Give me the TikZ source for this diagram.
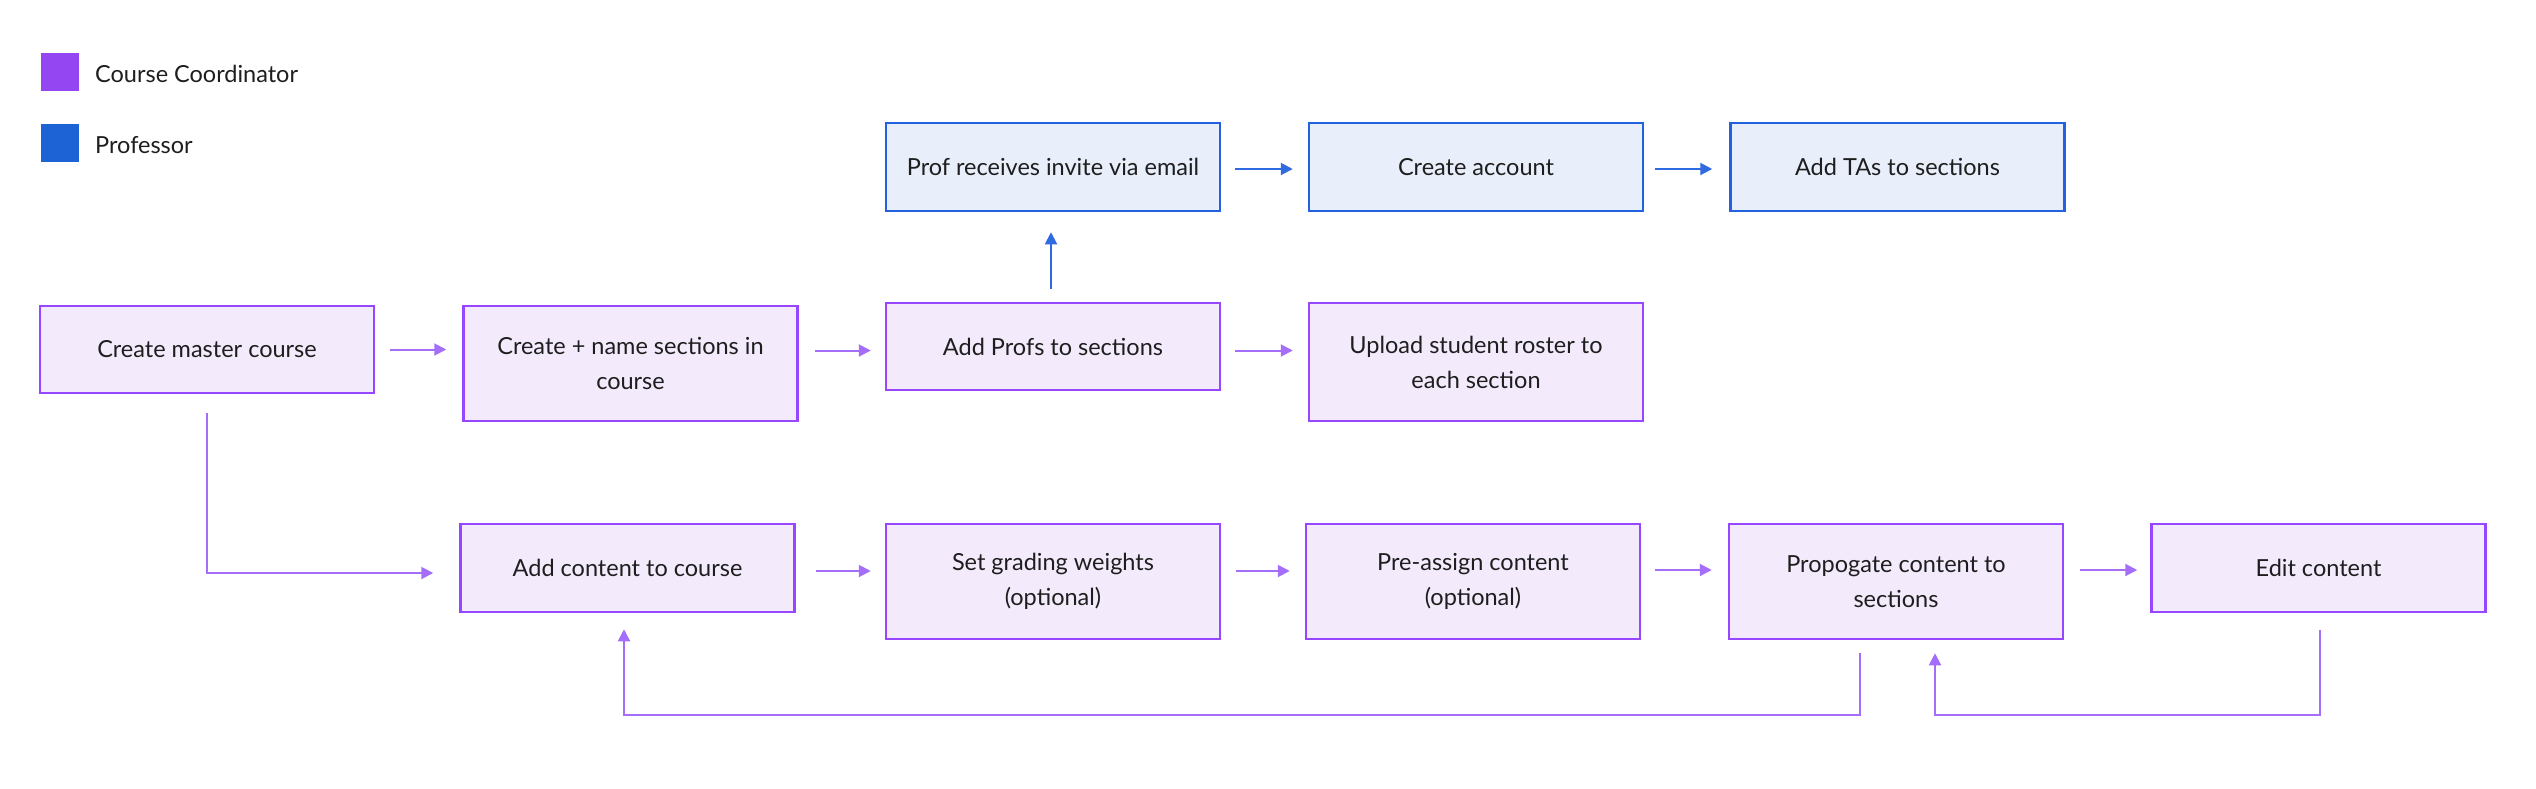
\documentclass[tikz,border=0pt]{standalone}
\usepackage{fontspec}
\setmainfont{Lato}
\usetikzlibrary{arrows.meta,calc}
\definecolor{purpB}{HTML}{9747FF}
\definecolor{purpF}{HTML}{F3EBFC}
\definecolor{purpA}{HTML}{A46EF8}
\definecolor{blueB}{HTML}{2362DE}
\definecolor{blueF}{HTML}{E8EEFA}
\definecolor{blueA}{HTML}{2F6AE0}
\definecolor{legP}{HTML}{9346F2}
\definecolor{legB}{HTML}{1E63D6}
\definecolor{txt}{HTML}{1E1E1E}
\begin{document}
\begin{tikzpicture}[x=1pt,y=-1pt,
  every node/.style={font=\fontsize{23.5}{35}\selectfont, text=txt},
  cbox/.style={draw=purpB, fill=purpF, line width=2.5pt, minimum width=334pt, minimum height=#1, align=center, inner sep=0pt},
  cbox/.default=87pt,
  pbox/.style={draw=blueB, fill=blueF, line width=2.5pt, minimum width=334pt, minimum height=88pt, align=center, inner sep=0pt},
  parr/.style={draw=purpA, line width=2pt, -{Triangle[length=12pt,width=12pt]}},
  barr/.style={draw=blueA, line width=2pt, -{Triangle[length=12pt,width=12pt]}},
  legsq/.style={minimum width=38pt, minimum height=38pt, inner sep=0pt},
  legtext/.style={anchor=west, inner sep=0pt, font=\fontsize{23.5}{30}\selectfont}
]
\useasboundingbox (0,0) rectangle (2536,788);
% legend
\node[legsq, fill=legP] (lp) at (60,72) {};
\node[legtext] (lpt) at (95,74) {Course Coordinator};
\node[legsq, fill=legB] (lb) at (60,143) {};
\node[legtext] (lbt) at (95,145) {Professor};
% professor row
\node[pbox] (prof) at (1053,167) {Prof receives invite via email};
\node[pbox] (account) at (1476,167) {Create account};
\node[pbox] (tas) at (1897.5,167) {Add TAs to sections};
% middle row
\node[cbox] (master) at (207,349.5) {Create master course};
\node[cbox=115pt] (sections) at (630.5,363.5) {Create + name sections in\\course};
\node[cbox] (profs) at (1053,346.5) {Add Profs to sections};
\node[cbox=118pt] (upload) at (1476,362) {Upload student roster to\\each section};
% bottom row
\node[cbox=88pt] (content) at (627.5,568) {Add content to course};
\node[cbox=115pt] (grading) at (1053,581.5) {Set grading weights\\(optional)};
\node[cbox=115pt] (preassign) at (1473,581.5) {Pre-assign content\\(optional)};
\node[cbox=115pt] (prop) at (1896,581.5) {Propogate content to\\sections};
\node[cbox=88pt] (edit) at (2318.5,568) {Edit content};
% horizontal arrows
\draw[parr, shorten <=15pt, shorten >=16pt] (master.east) -- (master.east -| sections.west);
\draw[parr, shorten <=16pt, shorten >=14pt] ([yshift=-4pt]profs.west -| sections.east) -- ([yshift=-4pt]profs.west);
\draw[parr, shorten <=14pt, shorten >=15pt] ([yshift=-4pt]profs.east) -- ([yshift=-4pt]profs.east -| upload.west);
\draw[barr, shorten <=14pt, shorten >=15pt] ([yshift=-2pt]prof.east) -- ([yshift=-2pt]prof.east -| account.west);
\draw[barr, shorten <=11pt, shorten >=17pt] ([yshift=-2pt]account.east) -- ([yshift=-2pt]account.east -| tas.west);
\draw[barr, shorten <=13pt, shorten >=20pt] ([xshift=-2pt]profs.north) -- ([xshift=-2pt]prof.south);
\draw[parr, shorten <=20pt, shorten >=14pt] ([yshift=-3pt]content.east) -- ([yshift=-3pt]content.east -| grading.west);
\draw[parr, shorten <=15pt, shorten >=15pt] ([yshift=-3pt]content.east -| grading.east) -- ([yshift=-3pt]content.east -| preassign.west);
\draw[parr, shorten <=14pt, shorten >=16pt] ([yshift=-2pt]content.east -| preassign.east) -- ([yshift=-2pt]content.east -| prop.west);
\draw[parr, shorten <=16pt, shorten >=13pt] ([yshift=-2pt]content.east -| prop.east) -- ([yshift=-2pt]edit.west);
% master down to content
\coordinate (md) at ($(master.south)+(0,19)$);
\draw[parr, shorten >=26pt] (md) |- ([yshift=-5pt]content.west);
% feedback loops
\coordinate (pd) at ($(prop.south)+(-36,13)$);
\coordinate (lowA) at (1860,715);
\coordinate (lowB) at (624,715);
\draw[parr, shorten >=16pt] (pd) -- (lowA) -- (lowB) -- ([xshift=-3.5pt]content.south);
\coordinate (ed) at ($(edit.south)+(1.5,17)$);
\coordinate (lowC) at (2320,715);
\coordinate (lowD) at (1935,715);
\draw[parr, shorten >=13pt] (ed) -- (lowC) -- (lowD) -- ([xshift=39pt]prop.south);
\end{tikzpicture}
\end{document}
